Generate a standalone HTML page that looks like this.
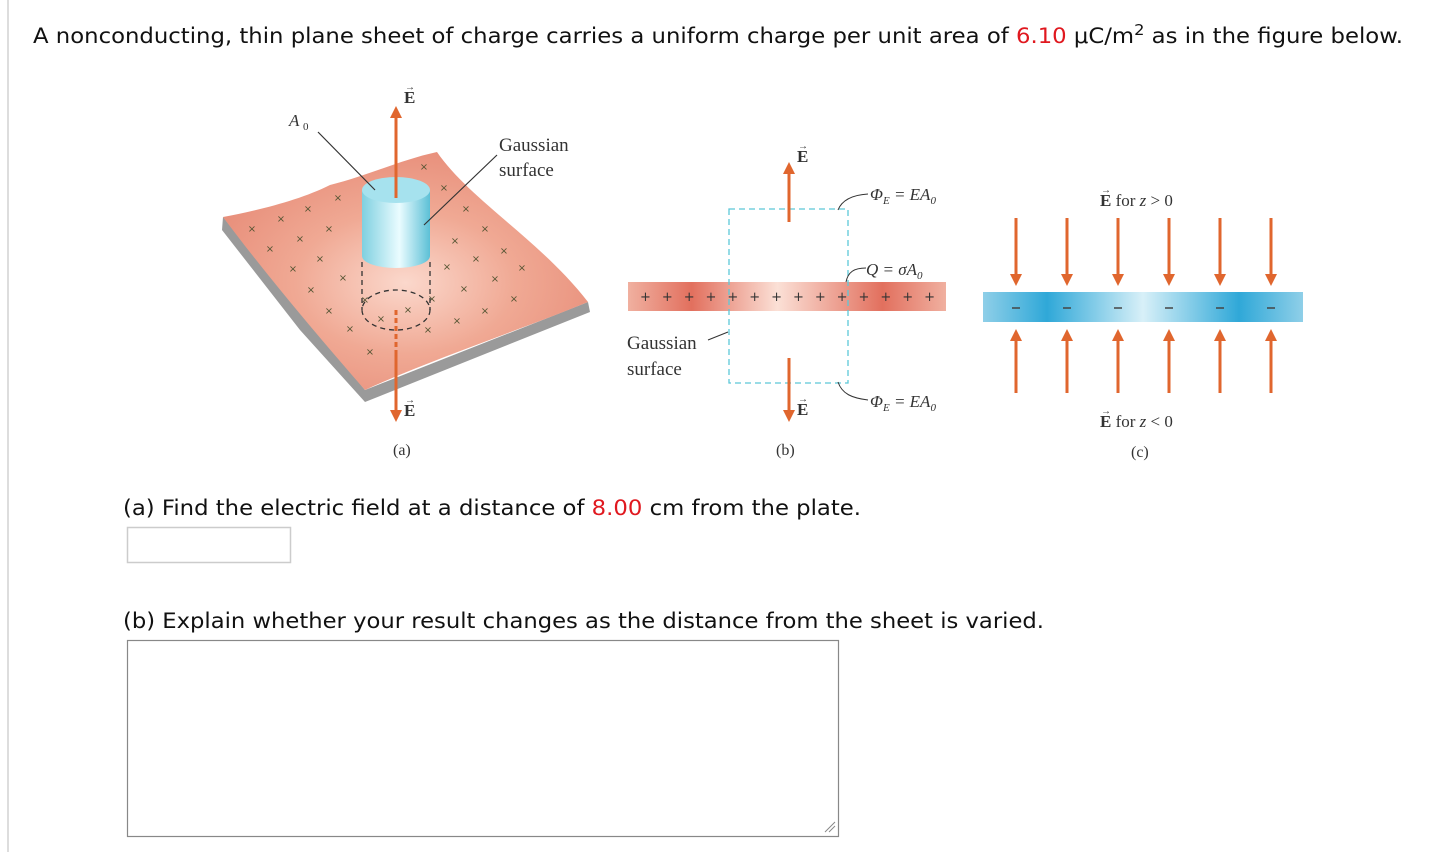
<!DOCTYPE html>
<html><head><meta charset="utf-8"><style>
html,body{margin:0;padding:0;background:#fff;width:1440px;height:852px;overflow:hidden}
svg{display:block}
</style></head><body>
<svg width="1440" height="852" viewBox="0 0 1440 852" xmlns="http://www.w3.org/2000/svg">
<defs>
<radialGradient id="sheet" cx="0.5" cy="0.55" r="0.6">
<stop offset="0" stop-color="#fbd8cc"/><stop offset="0.5" stop-color="#f0a994"/><stop offset="1" stop-color="#e78c78"/></radialGradient>
<linearGradient id="cyl" x1="0" x2="1"><stop offset="0" stop-color="#7fd0e0"/><stop offset="0.55" stop-color="#eafcff"/><stop offset="1" stop-color="#5cc0d6"/></linearGradient>
<linearGradient id="strB" x1="0" x2="1"><stop offset="0" stop-color="#f0b0a0"/><stop offset="0.2" stop-color="#e2705e"/><stop offset="0.47" stop-color="#fbe0d6"/><stop offset="0.8" stop-color="#e2705e"/><stop offset="1" stop-color="#f0b0a0"/></linearGradient>
<linearGradient id="strC" x1="0" x2="1"><stop offset="0" stop-color="#8fcfe8"/><stop offset="0.2" stop-color="#2fa8d8"/><stop offset="0.5" stop-color="#d8f0f8"/><stop offset="0.8" stop-color="#2fa8d8"/><stop offset="1" stop-color="#8fcfe8"/></linearGradient>
<marker id="ah" viewBox="0 0 10 10" refX="5" refY="5" markerWidth="4" markerHeight="4.5" orient="auto"><path d="M0,0 L10,5 L0,10 z" fill="#e0662e"/></marker>
</defs>
<rect x="7" y="0" width="2" height="852" fill="#ddd"/>
<text x="33" y="43" font-family="DejaVu Sans, Verdana, sans-serif" font-size="21" fill="#111" textLength="1370" lengthAdjust="spacingAndGlyphs">A nonconducting, thin plane sheet of charge carries a uniform charge per unit area of <tspan fill="#e0181f">6.10</tspan> μC/m<tspan dy="-8" font-size="15">2</tspan><tspan dy="8"> as in the figure below.</tspan></text>

<!-- figure a -->
<path d="M223,217 L222,230 L300,330 L365,402 L590,312 L588,302 L365,390 Z" fill="#9a9a9a"/>
<path d="M223,217 C260,210 300,200 330,185 C370,175 400,160 437,152 C470,200 540,240 588,302 C520,330 430,360 365,390 C330,350 270,280 223,217 Z" fill="url(#sheet)"/>
<g font-family="DejaVu Sans,sans-serif" font-size="10" fill="#553" text-anchor="middle">
<text x="252" y="232">×</text><text x="281" y="222">×</text><text x="308" y="212">×</text><text x="338" y="201">×</text><text x="424" y="170">×</text><text x="444" y="191">×</text><text x="466" y="212">×</text><text x="485" y="232">×</text><text x="270" y="252">×</text><text x="300" y="242">×</text><text x="329" y="232">×</text><text x="455" y="244">×</text><text x="476" y="262">×</text><text x="504" y="254">×</text><text x="293" y="272">×</text><text x="320" y="262">×</text><text x="343" y="281">×</text><text x="447" y="270">×</text><text x="495" y="282">×</text><text x="522" y="271">×</text><text x="311" y="293">×</text><text x="365" y="303">×</text><text x="329" y="314">×</text><text x="464" y="292">×</text><text x="514" y="302">×</text><text x="350" y="332">×</text><text x="457" y="324">×</text><text x="485" y="314">×</text><text x="370" y="355">×</text><text x="408" y="313">×</text><text x="381" y="322">×</text><text x="428" y="333">×</text><text x="432" y="302">×</text></g>
<ellipse cx="396" cy="310" rx="34" ry="20" fill="none" stroke="#333" stroke-width="1.3" stroke-dasharray="5,4"/>
<line x1="362" y1="262" x2="362" y2="310" stroke="#333" stroke-width="1.3" stroke-dasharray="5,4"/>
<line x1="430" y1="262" x2="430" y2="310" stroke="#333" stroke-width="1.3" stroke-dasharray="5,4"/>
<path d="M362,190 L362,256 A34,12 0 0 0 430,256 L430,190 Z" fill="url(#cyl)"/>
<ellipse cx="396" cy="190" rx="34" ry="13" fill="#a6e2ee"/>
<line x1="318" y1="132" x2="375" y2="190" stroke="#333" stroke-width="1.2"/>
<line x1="497" y1="155" x2="424" y2="225" stroke="#333" stroke-width="1.2"/>
<line x1="396" y1="198" x2="396" y2="112" stroke="#e0662e" stroke-width="3" marker-end="url(#ah)"/>
<line x1="396" y1="310" x2="396" y2="355" stroke="#e0662e" stroke-width="3" stroke-dasharray="5,3"/>
<line x1="396" y1="355" x2="396" y2="416" stroke="#e0662e" stroke-width="3" marker-end="url(#ah)"/>
<g font-family="Liberation Serif,serif" fill="#333">
<text x="404" y="103" font-size="17" font-weight="bold">E</text><text x="405" y="90" font-size="10">→</text>
<text x="404" y="416" font-size="17" font-weight="bold">E</text><text x="405" y="403" font-size="10">→</text>
<text x="289" y="126" font-size="17" font-style="italic">A</text><text x="303" y="130" font-size="11">0</text>
<text x="499" y="151" font-size="19">Gaussian</text><text x="499" y="176" font-size="19">surface</text>
<text x="393" y="455" font-size="16">(a)</text>

<!-- b -->
<text x="797" y="162" font-size="17" font-weight="bold">E</text><text x="798" y="149" font-size="10">→</text>
<text x="797" y="415" font-size="17" font-weight="bold">E</text><text x="798" y="402" font-size="10">→</text>
<text x="870" y="200" font-size="17" font-style="italic">Φ<tspan font-size="11" dy="4">E</tspan><tspan dy="-4"> = EA</tspan><tspan font-size="11" dy="4">0</tspan></text>
<text x="870" y="407" font-size="17" font-style="italic">Φ<tspan font-size="11" dy="4">E</tspan><tspan dy="-4"> = EA</tspan><tspan font-size="11" dy="4">0</tspan></text>
<text x="866" y="275" font-size="17" font-style="italic">Q = σA<tspan font-size="11" dy="4">0</tspan></text>
<text x="627" y="349" font-size="19">Gaussian</text><text x="627" y="375" font-size="19">surface</text>
<text x="776" y="455" font-size="16">(b)</text>
<!-- c -->
<text x="1100" y="206" font-size="17"><tspan font-weight="bold">E</tspan> for <tspan font-style="italic">z</tspan> &gt; 0</text>
<text x="1100" y="427" font-size="17"><tspan font-weight="bold">E</tspan> for <tspan font-style="italic">z</tspan> &lt; 0</text>
<text x="1101" y="193" font-size="10">→</text><text x="1101" y="414" font-size="10">→</text>
<text x="1131" y="457" font-size="16">(c)</text>
</g>
<rect x="628" y="282" width="318" height="29" fill="url(#strB)"/>
<text x="640" y="301" font-family="DejaVu Sans,sans-serif" font-size="13" fill="#333" textLength="295" lengthAdjust="spacing">+ + + + + + + + + + + + + +</text>
<rect x="729" y="209" width="119" height="174" fill="none" stroke="#5cc8d8" stroke-width="1.3" stroke-dasharray="6,4"/>
<line x1="789" y1="222" x2="789" y2="168" stroke="#e0662e" stroke-width="3" marker-end="url(#ah)"/>
<line x1="789" y1="358" x2="789" y2="416" stroke="#e0662e" stroke-width="3" marker-end="url(#ah)"/>
<path d="M838,210 C842,200 852,195 868,194" fill="none" stroke="#333"/>
<path d="M838,382 C842,394 852,398 868,400" fill="none" stroke="#333"/>
<path d="M846,282 C848,272 854,268 866,268" fill="none" stroke="#333"/>
<path d="M708,340 L728,332" stroke="#333" fill="none"/>
<rect x="983" y="292" width="320" height="30" fill="url(#strC)"/>
<g stroke="#e0662e" stroke-width="3">
<line x1="1016" y1="218" x2="1016" y2="280" marker-end="url(#ah)"/><line x1="1067" y1="218" x2="1067" y2="280" marker-end="url(#ah)"/><line x1="1118" y1="218" x2="1118" y2="280" marker-end="url(#ah)"/><line x1="1169" y1="218" x2="1169" y2="280" marker-end="url(#ah)"/><line x1="1220" y1="218" x2="1220" y2="280" marker-end="url(#ah)"/><line x1="1271" y1="218" x2="1271" y2="280" marker-end="url(#ah)"/>
<line x1="1016" y1="393" x2="1016" y2="335" marker-end="url(#ah)"/><line x1="1067" y1="393" x2="1067" y2="335" marker-end="url(#ah)"/><line x1="1118" y1="393" x2="1118" y2="335" marker-end="url(#ah)"/><line x1="1169" y1="393" x2="1169" y2="335" marker-end="url(#ah)"/><line x1="1220" y1="393" x2="1220" y2="335" marker-end="url(#ah)"/><line x1="1271" y1="393" x2="1271" y2="335" marker-end="url(#ah)"/>
</g>
<g stroke="#444" stroke-width="1.5"><line x1="1012" y1="308" x2="1020" y2="308"/><line x1="1063" y1="308" x2="1071" y2="308"/><line x1="1114" y1="308" x2="1122" y2="308"/><line x1="1165" y1="308" x2="1173" y2="308"/><line x1="1216" y1="308" x2="1224" y2="308"/><line x1="1267" y1="308" x2="1275" y2="308"/></g>

<text x="123" y="515" font-family="DejaVu Sans, Verdana, sans-serif" font-size="21" fill="#111" textLength="738" lengthAdjust="spacingAndGlyphs">(a) Find the electric field at a distance of <tspan fill="#e0181f">8.00</tspan> cm from the plate.</text>
<rect x="127.5" y="527.5" width="163" height="35" fill="#fff" stroke="#ccc" stroke-width="1.5"/>
<text x="123" y="628" font-family="DejaVu Sans, Verdana, sans-serif" font-size="21" fill="#111" textLength="921" lengthAdjust="spacingAndGlyphs">(b) Explain whether your result changes as the distance from the sheet is varied.</text>
<rect x="127.5" y="640.5" width="711" height="196" fill="#fff" stroke="#888" stroke-width="1.2"/>
<path d="M825,832 L835,822 M829,832 L835,826" stroke="#888" stroke-width="1"/>
</svg>
</body></html>
